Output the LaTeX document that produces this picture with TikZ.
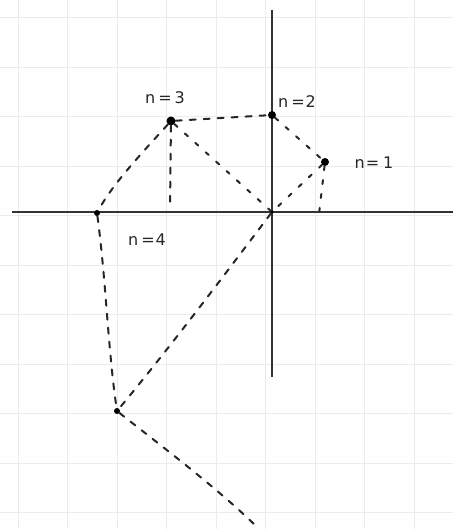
\documentclass[tikz,border=0pt]{standalone}
\usepackage{fontspec}
\setmainfont{DejaVu Sans}
\begin{document}
\begin{tikzpicture}[x=1pt,y=-1pt,
  gridline/.style={draw=black!8,line width=1.3pt},
  axis/.style={draw=black!80,line width=1.3pt},
  dsh/.style={draw=black!85,line width=2pt,dash pattern=on 6pt off 8pt,line cap=round},
  dtt/.style={draw=black!85,line width=2pt,dash pattern=on 4pt off 10pt,line cap=round},
  dot/.style={circle,fill=black,inner sep=0pt,minimum size=#1},
  lbl/.style={font=\fontsize{16}{16}\selectfont,text=black!85}]
\useasboundingbox (0,0) rectangle (453,529);
\fill[white] (0,0) rectangle (453,529);
% grid
\foreach \k in {0,...,8} {
  \draw[gridline] ({18.3+49.5*\k},0) -- ({18.3+49.5*\k},529);
}
\foreach \k in {0,...,10} {
  \draw[gridline] (0,{17.7+49.5*\k}) -- (453,{17.7+49.5*\k});
}
% axes
\coordinate (xl) at (12,212);
\coordinate (xr) at (453,212);
\coordinate (yt) at (272,10);
\coordinate (yb) at (272,377);
\draw[axis] (xl) -- (xr);
\draw[axis] (yt) -- (yb);
% points
\node[dot=9pt] (p3) at (171,121) {};
\node[dot=8pt] (p2) at (272,115) {};
\node[dot=8pt] (p1) at (325,162) {};
\node[dot=6pt] (p4) at (97,213) {};
\node[dot=3.5pt] (o) at (272,212) {};
\node[dot=6pt] (p5) at (117,411) {};
\coordinate (f3) at (170,208);
\coordinate (f1) at (319,214);
\coordinate (end) at (259,529);
% labels
\node[lbl] (l3) at (165,98) {n\hspace{3pt}=\hspace{3pt}3};
\node[lbl] (l2) at (297,102) {n\hspace{3pt}=\hspace{1pt}2};
\node[lbl] (l1) at (374,163) {n\hspace{1pt}=\hspace{4pt}1};
\node[lbl] (l4) at (147,240) {n\hspace{3pt}=\hspace{1pt}4};
% connectors
\draw[dsh] (p3) -- (p2);
\draw[dtt] (p2) -- (p1);
\draw[dtt] (p1) -- (o);
\draw[dtt] (p1) -- (f1);
\draw[dtt] (p3) -- (o);
\draw[dsh] (p3) -- (f3);
\draw[dsh] (p3) .. controls (140,155) and (112,185) .. (p4);
\draw[dsh] (p4) .. controls (106,280) and (108,350) .. (p5);
\draw[dsh] (o) .. controls (228,270) and (172,345) .. (p5);
\draw[dsh] (p5) .. controls (160,445) and (220,490) .. (end);
\end{tikzpicture}
\end{document}
